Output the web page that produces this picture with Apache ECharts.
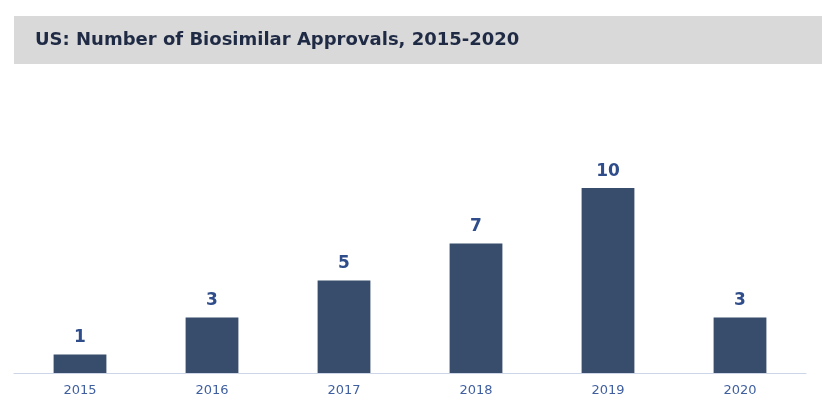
<!DOCTYPE html>
<html>
<head>
<meta charset="utf-8">
<script src="https://cdn.jsdelivr.net/npm/echarts@6/dist/echarts.min.js"></script>
<style>html,body{margin:0;padding:0;background:#fff;}#c{width:835px;height:411px;}</style>
</head>
<body>
<div id="c"></div>
<script>
var titleText = 'US: Number of Biosimilar Approvals, 2015-2020';
var categories = ['2015', '2016', '2017', '2018', '2019', '2020'];
var approvals = [1, 3, 5, 7, 10, 3];

var chart = echarts.init(document.getElementById('c'));
chart.setOption({
  animation: false,
  backgroundColor: '#ffffff',
  graphic: [
    { type: 'rect', left: 14, top: 16, shape: { width: 808, height: 48 }, style: { fill: '#d9d9d9' }, z: 0 },
    { type: 'text', left: 35, top: 31, style: { text: titleText, fill: '#1f2a44', font: 'bold 18px "DejaVu Sans", sans-serif' }, z: 1 }
  ],
  grid: { left: 14, right: 29, top: 188, bottom: 38, containLabel: false },
  xAxis: {
    type: 'category',
    data: categories,
    axisLine: { lineStyle: { color: '#cdd5e8', width: 1 } },
    axisTick: { show: false },
    axisLabel: { color: '#3f5fa0', fontSize: 13, margin: 11, fontFamily: '"DejaVu Sans", sans-serif' }
  },
  yAxis: {
    type: 'value', min: 0, max: 10, show: false, splitLine: { show: false }
  },
  series: [{
    type: 'bar',
    data: approvals,
    barWidth: '40%',
    itemStyle: { color: '#374d6b' },
    label: { show: true, position: 'top', distance: 8, color: '#2f4d8a', fontSize: 17, fontWeight: 'bold', fontFamily: '"DejaVu Sans", sans-serif' }
  }]
});
</script>
</body>
</html>
